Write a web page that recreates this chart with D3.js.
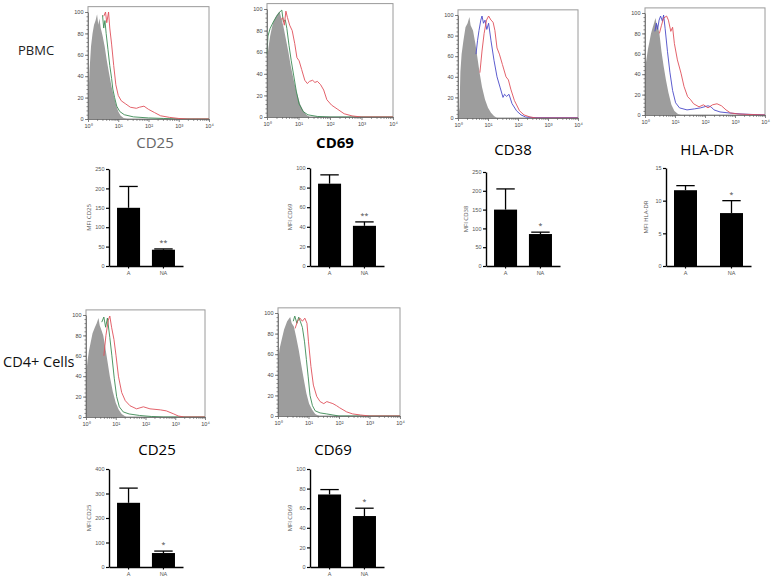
<!DOCTYPE html>
<html>
<head>
<meta charset="utf-8">
<script src="https://cdn.jsdelivr.net/npm/d3@7"></script>
<style>
body { margin: 0; background: #fff; }
svg { font-family: "Open Sans", "DejaVu Sans", sans-serif; }
</style>
</head>
<body>
<script>
// histogram curves: [log10 fluorescence, % of max]
var pbmcCD25Iso = [[0,12],[0.05,45],[0.1,68],[0.15,80],[0.2,88],[0.25,92],[0.3,98],[0.34,88],[0.38,94],[0.42,85],[0.48,78],[0.55,68],[0.62,55],[0.7,42],[0.78,30],[0.85,22],[0.92,14],[1.0,7],[1.08,3],[1.18,1],[1.3,0]];
var pbmcCD25NA = [[0.48,97],[0.52,85],[0.56,92],[0.6,80],[0.66,65],[0.72,50],[0.78,38],[0.82,28],[0.88,20],[0.95,12],[1.05,7],[1.2,4],[1.5,2],[2,1],[2.5,0.5],[3,0],[4,0]];
var pbmcCD25A = [[0.52,96],[0.58,100],[0.62,90],[0.68,100],[0.72,85],[0.78,70],[0.85,50],[0.92,32],[1.0,22],[1.1,17],[1.25,14],[1.4,11],[1.6,10],[1.7,11],[1.85,12],[2.0,9],[2.2,6],[2.4,3],[2.7,1.5],[3,0.5],[3.3,0],[4,0]];

var pbmcCD69Iso = [[0,52],[0.05,65],[0.1,75],[0.15,82],[0.2,88],[0.28,93],[0.35,96],[0.4,98],[0.45,92],[0.52,84],[0.6,72],[0.68,60],[0.75,48],[0.85,34],[0.95,22],[1.05,12],[1.15,6],[1.25,2],[1.35,0]];
var pbmcCD69NA = [[0,58],[0.03,75],[0.1,82],[0.2,88],[0.3,93],[0.4,97],[0.47,99],[0.52,88],[0.58,90],[0.63,82],[0.7,66],[0.77,52],[0.85,38],[0.93,24],[1.02,12],[1.15,5],[1.3,2],[1.6,0.5],[2,0],[4,0]];
var pbmcCD69A = [[0.44,90],[0.5,92],[0.55,85],[0.6,98],[0.65,92],[0.72,85],[0.8,80],[0.88,68],[0.95,55],[1.02,52],[1.1,44],[1.2,34],[1.28,31],[1.35,33],[1.45,34],[1.52,32],[1.6,33],[1.7,30],[1.8,25],[1.9,16],[2.05,11],[2.25,7],[2.45,3],[2.7,1],[3,0],[4,0]];

var pbmcCD38Iso = [[0,0],[0.05,10],[0.08,45],[0.12,62],[0.18,75],[0.25,88],[0.32,92],[0.38,98],[0.42,90],[0.5,85],[0.58,72],[0.65,58],[0.72,44],[0.8,30],[0.9,18],[1.0,10],[1.1,5],[1.2,2],[1.3,0]];
var pbmcCD38NA = [[0.6,62],[0.65,75],[0.7,85],[0.76,95],[0.8,99],[0.85,92],[0.9,95],[0.96,86],[1.02,92],[1.1,75],[1.2,56],[1.3,40],[1.4,30],[1.5,20],[1.55,23],[1.62,21],[1.7,23],[1.8,14],[1.95,7],[2.1,3],[2.25,1],[2.6,0.3],[4,0.3]];
var pbmcCD38A = [[0.73,44],[0.8,65],[0.87,82],[0.95,95],[1.02,99],[1.1,95],[1.17,93],[1.23,85],[1.3,68],[1.38,62],[1.48,52],[1.6,40],[1.68,37],[1.76,28],[1.88,17],[2.05,7],[2.2,3],[2.4,1],[2.6,0],[4,0]];

var pbmcHLAIso = [[0,45],[0.05,55],[0.1,65],[0.15,72],[0.2,80],[0.25,85],[0.3,90],[0.35,95],[0.38,90],[0.42,88],[0.48,80],[0.55,62],[0.62,48],[0.7,34],[0.78,22],[0.88,10],[0.98,4],[1.1,1],[1.2,0]];
var pbmcHLANA = [[0.33,82],[0.38,90],[0.42,84],[0.47,93],[0.52,97],[0.58,92],[0.62,98],[0.67,85],[0.75,62],[0.83,42],[0.92,24],[1.02,12],[1.15,7],[1.4,5],[1.65,6],[1.85,7],[2.1,9],[2.2,8],[2.3,5],[2.5,3],[2.8,2],[3.2,1],[4,0]];
var pbmcHLAA = [[0.48,80],[0.55,88],[0.62,95],[0.72,97],[0.78,93],[0.86,82],[0.92,86],[0.98,70],[1.08,54],[1.2,41],[1.3,28],[1.42,18],[1.52,15],[1.62,11],[1.8,8],[1.95,10],[2.1,7],[2.25,10],[2.4,11],[2.55,9],[2.7,5],[2.85,2],[3.1,1],[3.5,0.5],[4,0]];

var cd4CD25Iso = [[0,40],[0.05,55],[0.1,65],[0.15,72],[0.22,82],[0.3,88],[0.36,92],[0.42,97],[0.46,90],[0.52,85],[0.58,80],[0.65,68],[0.72,55],[0.8,40],[0.9,25],[1.0,14],[1.1,7],[1.2,3],[1.35,0]];
var cd4CD25NA = [[0.53,93],[0.6,98],[0.66,88],[0.72,97],[0.8,78],[0.87,60],[0.95,38],[1.03,20],[1.12,10],[1.25,5],[1.45,3],[1.8,1.5],[2.2,0.5],[2.6,0],[4,0]];
var cd4CD25A = [[0.6,60],[0.67,80],[0.75,95],[0.8,99],[0.86,88],[0.94,76],[1.01,60],[1.09,40],[1.2,24],[1.32,16],[1.48,11],[1.7,8],[1.93,10],[2.15,8],[2.5,7],[2.7,6],[2.95,3],[3.1,1],[3.3,0],[4,0]];

var cd4CD69Iso = [[0,52],[0.05,65],[0.12,74],[0.2,84],[0.3,92],[0.4,96],[0.45,90],[0.52,87],[0.6,76],[0.68,64],[0.76,50],[0.85,35],[0.93,22],[1.02,12],[1.12,6],[1.22,2],[1.35,0]];
var cd4CD69NA = [[0.5,92],[0.55,97],[0.62,90],[0.68,96],[0.73,92],[0.8,86],[0.87,72],[0.93,55],[0.99,38],[1.05,20],[1.13,10],[1.22,5],[1.38,3],[1.6,2],[1.8,1],[2.0,0],[4,0]];
var cd4CD69A = [[0.56,85],[0.64,92],[0.72,95],[0.8,92],[0.88,95],[0.95,90],[1.0,72],[1.08,48],[1.16,30],[1.27,19],[1.38,14],[1.5,12],[1.6,14],[1.7,13],[1.8,12],[1.92,10],[2.02,8],[2.25,4],[2.45,2],[2.7,1],[3,0],[4,0]];

var histYTicks = [0, 20, 40, 60, 80, 100];
var histXTicks = [0, 1, 2, 3, 4];

// bar charts: mean MFI and top of error bar, groups A / NA
var barGroups = ["A", "NA"];
var pbmcCD25Mean = [150, 42], pbmcCD25Err = [205, 44];
var pbmcCD69Mean = [84, 41], pbmcCD69Err = [93, 45];
var pbmcCD38Mean = [150, 85], pbmcCD38Err = [205, 90];
var pbmcHLAMean = [11.6, 8.1], pbmcHLAErr = [12.3, 10];
var cd4CD25Mean = [262, 57], cd4CD25Err = [322, 65];
var cd4CD69Mean = [74, 52], cd4CD69Err = [79, 60];

var svg = d3.select("body").append("svg")
    .attr("width", 775)
    .attr("height", 576);

var sup = ["\u2070", "\u00b9", "\u00b2", "\u00b3", "\u2074"];

function drawHisto(box, iso, lineA, lineB, colA, colB) {
    var x = d3.scaleLinear().domain([0, 4]).range([box.l, box.r]);
    var y = d3.scaleLinear().domain([0, 100]).range([box.b, box.t]);
    var g = svg.append("g");

    g.append("rect")
        .attr("x", box.l).attr("y", y(105))
        .attr("width", box.r - box.l).attr("height", box.b - y(105))
        .attr("fill", "none").attr("stroke", "#9a9a9a").attr("stroke-width", 1);

    var area = d3.area()
        .x(function (d) { return x(d[0]); })
        .y0(box.b)
        .y1(function (d) { return y(d[1]); });
    g.append("path").datum(iso)
        .attr("d", area)
        .attr("fill", "#9d9d9d");

    var line = d3.line()
        .x(function (d) { return x(d[0]); })
        .y(function (d) { return y(d[1]); });
    g.append("path").datum(lineA)
        .attr("d", line).attr("fill", "none")
        .attr("stroke", colA).attr("stroke-width", 0.9);
    g.append("path").datum(lineB)
        .attr("d", line).attr("fill", "none")
        .attr("stroke", colB).attr("stroke-width", 0.9);

    // log minor ticks
    var minor = [];
    for (var n = 0; n < 4; n++) {
        for (var k = 2; k < 10; k++) minor.push(n + Math.log10(k));
    }
    g.append("g")
        .attr("transform", "translate(0," + box.b + ")")
        .call(d3.axisBottom(x).tickValues(minor).tickSize(1.8).tickFormat(""))
        .call(function (a) { a.select(".domain").remove(); });
    var xa = g.append("g")
        .attr("transform", "translate(0," + box.b + ")")
        .call(d3.axisBottom(x).tickValues(histXTicks).tickSize(3).tickSizeOuter(0).tickFormat(""));
    xa.selectAll(".tick").append("text")
        .attr("y", 9).attr("text-anchor", "middle")
        .attr("font-size", 5.5).attr("fill", "#444")
        .text(function (d) { return "10" + sup[d]; });

    var yMinor = d3.range(0, 101, 4);
    g.append("g")
        .attr("transform", "translate(" + box.l + ",0)")
        .call(d3.axisLeft(y).tickValues(yMinor).tickSize(1.5).tickFormat(""))
        .call(function (a) { a.select(".domain").remove(); });
    g.append("g")
        .attr("transform", "translate(" + box.l + ",0)")
        .call(d3.axisLeft(y).tickValues(histYTicks).tickSize(3).tickSizeOuter(0))
        .call(function (a) {
            a.selectAll("text").attr("font-size", 5.5).attr("fill", "#444").attr("x", -4.5);
        });

    g.selectAll(".domain, .tick line").attr("stroke", "#666").attr("stroke-width", 0.8);
}

function drawBars(cfg, means, errs) {
    var x = d3.scaleBand().domain(barGroups)
        .range([cfg.x0, cfg.x1])
        .paddingInner(cfg.pi).paddingOuter(cfg.po);
    var y = d3.scaleLinear().domain([0, cfg.max]).range([cfg.y0, cfg.y1]);
    var g = svg.append("g");
    var data = barGroups.map(function (k, i) { return { k: k, m: means[i], e: errs[i] }; });

    g.selectAll(".err").data(data).enter().append("line")
        .attr("x1", function (d) { return x(d.k) + x.bandwidth() / 2; })
        .attr("x2", function (d) { return x(d.k) + x.bandwidth() / 2; })
        .attr("y1", function (d) { return y(d.m); })
        .attr("y2", function (d) { return y(d.e); })
        .attr("stroke", "#000").attr("stroke-width", 1.3);
    g.selectAll(".cap").data(data).enter().append("line")
        .attr("x1", function (d) { return x(d.k) + x.bandwidth() * 0.1; })
        .attr("x2", function (d) { return x(d.k) + x.bandwidth() * 0.9; })
        .attr("y1", function (d) { return y(d.e); })
        .attr("y2", function (d) { return y(d.e); })
        .attr("stroke", "#000").attr("stroke-width", 1.3);

    g.selectAll("rect").data(data).enter().append("rect")
        .attr("x", function (d) { return x(d.k); })
        .attr("y", function (d) { return y(d.m); })
        .attr("width", x.bandwidth())
        .attr("height", function (d) { return cfg.y0 - y(d.m); })
        .attr("fill", "#000");

    g.append("g")
        .attr("transform", "translate(" + cfg.x0 + ",0)")
        .call(d3.axisLeft(y).tickValues(cfg.ticks).tickSize(3).tickSizeOuter(0))
        .call(function (a) {
            a.selectAll("text").attr("font-size", 5.5).attr("fill", "#555").attr("x", -4.5);
        });
    g.append("g")
        .attr("transform", "translate(0," + cfg.y0 + ")")
        .call(d3.axisBottom(x).tickSize(2.5).tickSizeOuter(0))
        .call(function (a) {
            a.selectAll("text").attr("font-size", 5.5).attr("fill", "#555").attr("y", 5);
        });
    g.selectAll(".domain").attr("stroke", "#000").attr("stroke-width", 1.4);
    g.selectAll(".tick line").attr("stroke", "#000").attr("stroke-width", 1.2);

    g.append("text")
        .attr("transform", "translate(" + (cfg.x0 - 18) + "," + ((cfg.y0 + cfg.y1) / 2) + ") rotate(-90)")
        .attr("text-anchor", "middle")
        .attr("font-size", 6).attr("fill", "#555")
        .text(cfg.label);

    g.append("text")
        .attr("x", x("NA") + x.bandwidth() / 2)
        .attr("y", y(errs[1]) - 4)
        .attr("text-anchor", "middle")
        .attr("font-size", 7).attr("fill", "#444")
        .text(cfg.star);
}

var red = "#e0505a", green = "#3c8a55", blue = "#4a4ac8";

drawHisto({ l: 88, r: 209, t: 12, b: 119 }, pbmcCD25Iso, pbmcCD25NA, pbmcCD25A, green, red);
drawHisto({ l: 267, r: 393, t: 9, b: 117 }, pbmcCD69Iso, pbmcCD69NA, pbmcCD69A, green, red);
drawHisto({ l: 458, r: 578, t: 15, b: 118 }, pbmcCD38Iso, pbmcCD38NA, pbmcCD38A, blue, red);
drawHisto({ l: 645, r: 765, t: 13, b: 115 }, pbmcHLAIso, pbmcHLANA, pbmcHLAA, blue, red);
drawHisto({ l: 86, r: 205, t: 315, b: 417 }, cd4CD25Iso, cd4CD25NA, cd4CD25A, green, red);
drawHisto({ l: 278, r: 400, t: 313, b: 416 }, cd4CD69Iso, cd4CD69NA, cd4CD69A, green, red);

drawBars({ x0: 109, x1: 183, y0: 266, y1: 169, max: 250, ticks: [0, 50, 100, 150, 200, 250], pi: 0.34, po: 0.23, label: "MFI CD25", star: "**" }, pbmcCD25Mean, pbmcCD25Err);
drawBars({ x0: 310, x1: 384, y0: 266, y1: 168, max: 100, ticks: [0, 20, 40, 60, 80, 100], pi: 0.34, po: 0.23, label: "MFI CD69", star: "**" }, pbmcCD69Mean, pbmcCD69Err);
drawBars({ x0: 486, x1: 560, y0: 266, y1: 172, max: 250, ticks: [0, 50, 100, 150, 200, 250], pi: 0.34, po: 0.23, label: "MFI CD38", star: "*" }, pbmcCD38Mean, pbmcCD38Err);
drawBars({ x0: 666, x1: 751, y0: 266, y1: 168, max: 15, ticks: [0, 5, 10, 15], pi: 0.5, po: 0.174, label: "MFI HLA-DR", star: "*" }, pbmcHLAMean, pbmcHLAErr);
drawBars({ x0: 109, x1: 183, y0: 567, y1: 469, max: 400, ticks: [0, 100, 200, 300, 400], pi: 0.34, po: 0.23, label: "MFI CD25", star: "*" }, cd4CD25Mean, cd4CD25Err);
drawBars({ x0: 310, x1: 384, y0: 567, y1: 469, max: 100, ticks: [0, 20, 40, 60, 80, 100], pi: 0.34, po: 0.23, label: "MFI CD69", star: "*" }, cd4CD69Mean, cd4CD69Err);

// titles and row labels
var titles = [
    { t: "CD25", x: 155, y: 148, c: "#666", w: "normal" },
    { t: "CD69", x: 335, y: 148, c: "#000", w: "bold" },
    { t: "CD38", x: 513, y: 155, c: "#000", w: "normal" },
    { t: "HLA-DR", x: 707, y: 155, c: "#000", w: "normal" },
    { t: "CD25", x: 157, y: 455, c: "#000", w: "normal" },
    { t: "CD69", x: 333, y: 455, c: "#000", w: "normal" }
];
svg.selectAll(".title").data(titles).enter().append("text")
    .attr("x", function (d) { return d.x; })
    .attr("y", function (d) { return d.y; })
    .attr("text-anchor", "middle")
    .attr("font-size", 15)
    .attr("font-weight", function (d) { return d.w; })
    .attr("fill", function (d) { return d.c; })
    .text(function (d) { return d.t; });

svg.append("text").attr("x", 18).attr("y", 55)
    .attr("font-size", 13).attr("fill", "#222").text("PBMC");
svg.append("text").attr("x", 3).attr("y", 367)
    .attr("font-size", 14.5).attr("fill", "#111").text("CD4+ Cells");
</script>
</body>
</html>
